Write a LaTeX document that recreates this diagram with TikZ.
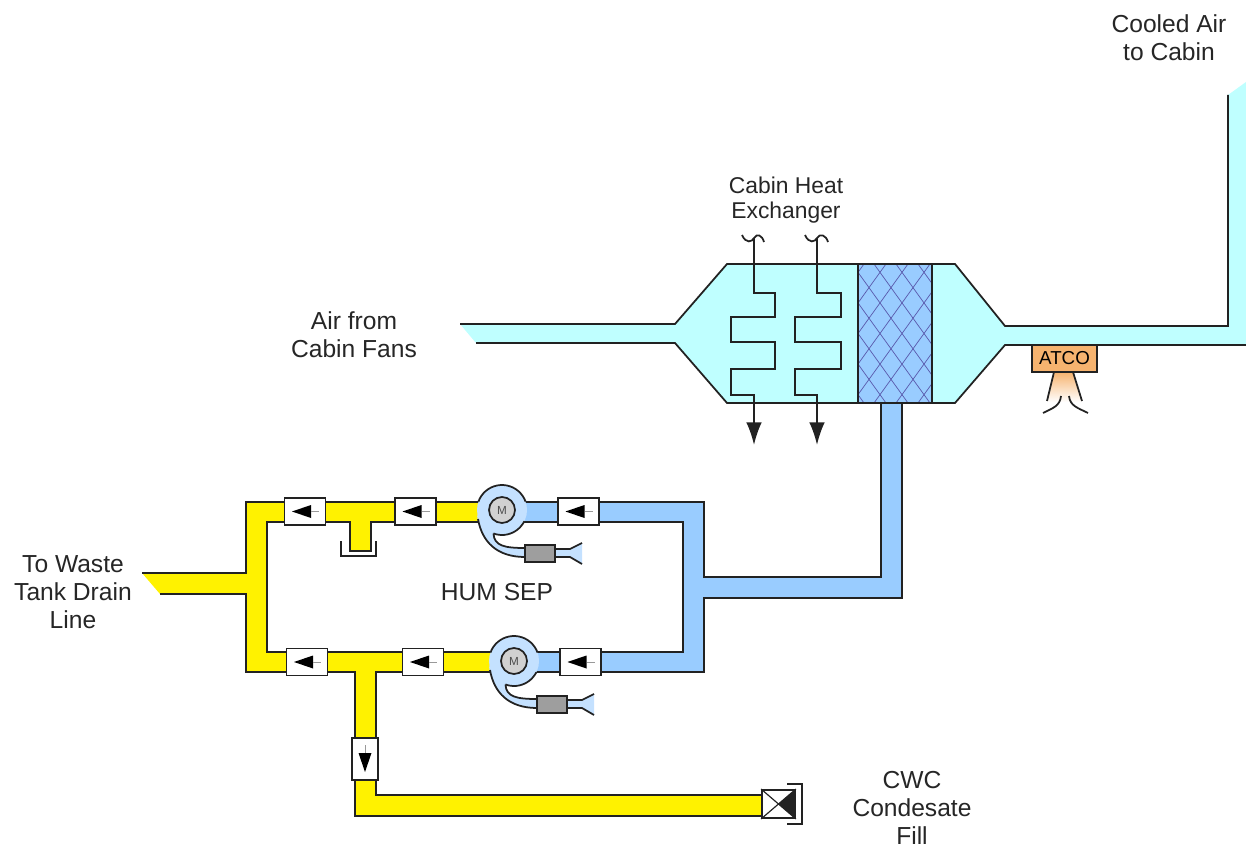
\documentclass[tikz,border=0pt]{standalone}
\usepackage{fontspec}
\setmainfont{Liberation Sans}
\usetikzlibrary{arrows.meta}
\definecolor{ductcyan}{HTML}{BFFFFF}
\definecolor{waterblue}{HTML}{99CCFF}
\definecolor{fanblue}{HTML}{C4E1FF}
\definecolor{atcoorange}{HTML}{F6B36F}
\definecolor{wire}{HTML}{222222}
\tikzset{
    pipeline/.style={draw=wire, line width=1.5pt, line join=miter},
    coil/.style={draw=wire, line width=1.6pt, ->, >={Latex[length=0.68cm,width=0.47cm]}},
    valvebox/.style={draw=wire, fill=white, line width=1.5pt, minimum width=1.23cm, minimum height=0.81cm, inner sep=0pt},
    label/.style={align=center, inner sep=0pt, text=black!85, font=\fontsize{21}{24}\selectfont},
}
\newcommand{\fanunit}[3]{
    \begin{scope}[shift={(#2,#3)}]
        \fill[fanblue] (0,0) circle[radius=25];
        \fill[fanblue] (-25,5) .. controls (-22,32) and (-5,47) .. (23,47) -- (23,38) .. controls (3,38) and (-8,36) .. (-8.5,23) -- cycle;
        \draw[pipeline] plot[smooth, domain=-160:-20, samples=20] ({25*cos(\x)},{25*sin(\x)});
        \draw[pipeline] plot[smooth, domain=27:110, samples=14] ({25*cos(\x)},{25*sin(\x)});
        \draw[pipeline] (-24,9) .. controls (-20,32) and (-5,47) .. (23,47);
        \draw[pipeline] (-8.5,23.5) .. controls (-8,36) and (3,38) .. (23,38);
        \fill[fanblue] (68,39) -- (80,33) -- (80,54) -- (68,47) -- cycle;
        \fill[fanblue] (53,39) rectangle (68,47);
        \draw[pipeline] (53,39) -- (68,39) -- (80,33);
        \draw[pipeline] (53,47) -- (68,47) -- (80,54);
        \draw[pipeline, fill=black!38] (23,35) rectangle (53,52);
        \node[circle, draw=wire, fill=black!18, line width=1.5pt, minimum size=0.78cm, inner sep=0pt, text=black!70, font=\fontsize{10}{10}\selectfont] (#1) at (0,0) {M};
    \end{scope}
}

\begin{document}
\begin{tikzpicture}[x=0.03cm, y=-0.03cm]
    \useasboundingbox (0,0) rectangle (1246,848);

    % cabin air duct
    \fill[ductcyan] (460,324) -- (675,324) -- (727,264) -- (955,264) -- (1005,326) -- (1228,326) -- (1228,95) -- (1246,82) -- (1246,345) -- (1005,345) -- (955,403) -- (727,403) -- (675,343) -- (476,343) -- cycle;
    \draw[pipeline] (460,324) -- (675,324) -- (727,264) -- (955,264) -- (1005,326) -- (1228,326) -- (1228,95);
    \draw[pipeline] (476,343) -- (675,343) -- (727,403) -- (955,403) -- (1005,345) -- (1246,345);

    % water lines
    \draw[pipeline, fill=waterblue] (881,403) -- (881,577) -- (704,577) -- (704,502) -- (510,502) -- (510,522) -- (683,522) -- (683,652) -- (522,652) -- (522,672) -- (704,672) -- (704,598) -- (902,598) -- (902,403);
    \draw[pipeline, fill=yellow] (142,573) -- (246,573) -- (246,502) -- (490,502) -- (490,522) -- (371,522) -- (371,551) -- (350,551) -- (350,522) -- (267,522) -- (267,652) -- (505,652) -- (505,672) -- (376,672) -- (376,795) -- (762,795) -- (762,816) -- (355,816) -- (355,672) -- (246,672) -- (246,594) -- (160,594);
    \draw[pipeline] (341,541) -- (341,556) -- (376,556) -- (376,541);

    % core of the heat exchanger
    \fill[waterblue] (858,264) rectangle (932,403);
    \begin{scope}
        \clip (858,264) rectangle (932,403);
        \foreach \d in {-88,-66,...,220} {
            \draw[blue!50!black!65, line width=0.6pt] (858+\d-50,264) -- (858+\d+50,403);
            \draw[blue!50!black!65, line width=0.6pt] (858+\d+50,264) -- (858+\d-50,403);
        }
    \end{scope}
    \draw[draw=wire, line width=1.8pt] (858,264) rectangle (932,403);

    % coolant coils
    \draw[coil] (754,238) -- (754,293) -- (775,293) -- (775,317) -- (731,317) -- (731,342) -- (775,342) -- (775,369) -- (731,369) -- (731,395) -- (754,395) -- (754,445);
    \draw[coil] (817,238) -- (817,293) -- (841,293) -- (841,317) -- (795,317) -- (795,342) -- (841,342) -- (841,369) -- (795,369) -- (795,395) -- (817,395) -- (817,445);
    \draw[pipeline] (742,235) .. controls (746,244) and (752,242) .. (754,238) .. controls (757,233) and (762,235) .. (764,242);
    \draw[pipeline] (805,235) .. controls (809,244) and (815,242) .. (817,238) .. controls (820,233) and (826,235) .. (828,242);

    % ATCO
    \shade[top color=atcoorange, bottom color=white] (1054,372) -- (1047,402) -- (1082,402) -- (1073,372) -- cycle;
    \node[draw=wire, fill=atcoorange, line width=1.5pt, minimum width=1.95cm, minimum height=0.81cm, inner sep=0pt, font=\fontsize{16}{16}\selectfont] (atco) at (1064.5,358.5) {ATCO};
    \draw[pipeline] (1054,372) -- (1047,401);
    \draw[pipeline] (1073,372) -- (1082,401);
    \draw[pipeline] (1061,396) .. controls (1060,406) and (1053,408) .. (1043,413);
    \draw[pipeline] (1069,396) .. controls (1070,406) and (1078,408) .. (1088,413);

    % fans
    \fanunit{fanupper}{502}{510}
    \fanunit{fanlower}{514}{661}

    % check valves
    \node[valvebox] (vua) at (305,511.5) {};
    \node[valvebox] (vub) at (415.5,511.5) {};
    \node[valvebox] (vuc) at (578.5,511.5) {};
    \node[valvebox] (vla) at (307,662) {};
    \node[valvebox] (vlb) at (423,662) {};
    \node[valvebox] (vlc) at (580.5,662) {};
    \foreach \v in {vua,vub,vuc,vla,vlb,vlc} {
        \fill[black] (\v.center) ++(-13,0) -- ++(19,-6.5) -- ++(0,13) -- cycle;
        \draw[black!40, line width=0.5pt] (\v.center) ++(6,0) -- ++(8,0);
    }
    \node[valvebox, minimum width=0.78cm, minimum height=1.26cm] (vdown) at (365,759) {};
    \fill[black] (vdown.center) ++(0,13) -- ++(-6.5,-19) -- ++(13,0) -- cycle;
    \draw[black!40, line width=0.5pt] (vdown.center) ++(0,-6) -- ++(0,-8);

    % fill valve
    \node[draw=wire, fill=white, line width=1.5pt, minimum width=0.99cm, minimum height=0.84cm, inner sep=0pt] (vfill) at (778.5,804) {};
    \fill[wire] (vfill.center) -- (vfill.north east) -- (vfill.south east) -- cycle;
    \draw[wire, line width=1pt] (vfill.north west) -- (vfill.south east);
    \draw[wire, line width=1pt] (vfill.south west) -- (vfill.north east);
    \draw[pipeline] (787,784) -- (802,784) -- (802,824) -- (787,824);

    % labels
    \node[label] (cooled) at (1169,38) {Cooled Air\\to Cabin};
    \node[label, font=\fontsize{19.5}{22}\selectfont] (hx) at (786,200) {Cabin Heat\\Exchanger};
    \node[label] (cabinfans) at (354,335) {Air from\\Cabin Fans};
    \node[label] (wastetank) at (73,592) {To Waste\\Tank Drain\\Line};
    \node[label] (humsep) at (497,592) {HUM SEP};
    \node[label] (cwcfill) at (912,808) {CWC\\Condesate\\Fill};
\end{tikzpicture}
\end{document}
